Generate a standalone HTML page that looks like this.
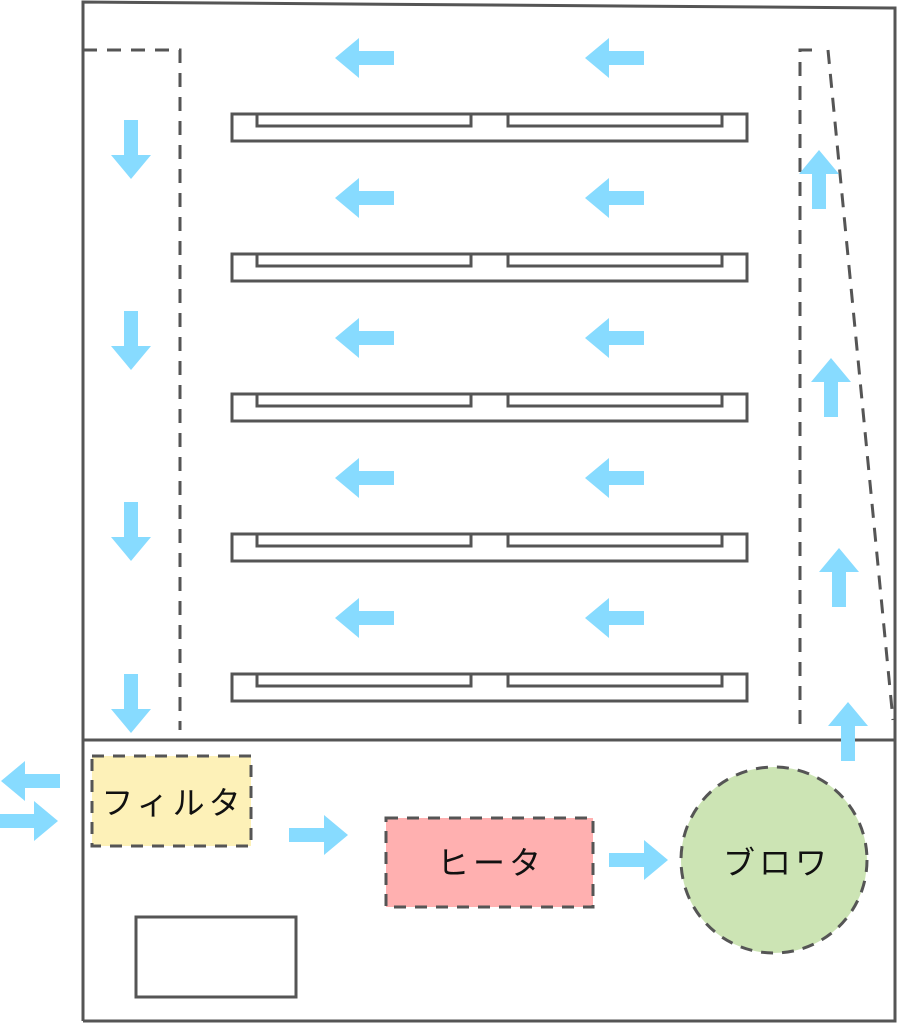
<!DOCTYPE html>
<html><head><meta charset="utf-8"><style>
html,body{margin:0;padding:0;background:#fff;}
svg{display:block;}
text{font-family:"Liberation Sans","Noto Sans CJK JP",sans-serif;font-size:32px;fill:#111;letter-spacing:4px;}
</style></head><body>
<svg width="898" height="1024" viewBox="0 0 898 1024" xmlns="http://www.w3.org/2000/svg">
<defs>
<path id="ar" d="M0,0 L-24,-20 L-24,-7 L-59,-7 L-59,7 L-24,7 L-24,20 Z" fill="#87dbff"/>
<g id="sh" fill="none" stroke="#555" stroke-width="3">
<rect x="232" y="114" width="515" height="27"/>
<polyline points="257,114 257,126 471,126 471,114"/>
<polyline points="508,114 508,126 722,126 722,114"/>
</g>
</defs>
<g stroke="#555" stroke-width="3" fill="none">
<polyline points="83,1021 83,2 895,8 895,1021 83,1021"/>
<line x1="83" y1="740" x2="895" y2="740"/>
</g>
<g stroke="#555" stroke-width="3" fill="none" stroke-dasharray="14,10">
<polyline points="83,50 180,50 180,730"/>
<polyline points="812,50 800,50 800,726"/>
<line x1="828" y1="50" x2="893" y2="720"/>
</g>
<use href="#sh"/>
<use href="#sh" y="140"/>
<use href="#sh" y="280"/>
<use href="#sh" y="420"/>
<use href="#sh" y="560"/>
<g>
<use href="#ar" transform="translate(335,58) rotate(180)"/>
<use href="#ar" transform="translate(585,58) rotate(180)"/>
<use href="#ar" transform="translate(335,198) rotate(180)"/>
<use href="#ar" transform="translate(585,198) rotate(180)"/>
<use href="#ar" transform="translate(335,338) rotate(180)"/>
<use href="#ar" transform="translate(585,338) rotate(180)"/>
<use href="#ar" transform="translate(335,478) rotate(180)"/>
<use href="#ar" transform="translate(585,478) rotate(180)"/>
<use href="#ar" transform="translate(335,618) rotate(180)"/>
<use href="#ar" transform="translate(585,618) rotate(180)"/>
<use href="#ar" transform="translate(131,179) rotate(90)"/>
<use href="#ar" transform="translate(131,370) rotate(90)"/>
<use href="#ar" transform="translate(131,561) rotate(90)"/>
<use href="#ar" transform="translate(131,733) rotate(90)"/>
<use href="#ar" transform="translate(819,150) rotate(-90)"/>
<use href="#ar" transform="translate(831,358) rotate(-90)"/>
<use href="#ar" transform="translate(839,548) rotate(-90)"/>
<use href="#ar" transform="translate(848,702) rotate(-90)"/>
<use href="#ar" transform="translate(1,781) rotate(180)"/>
<use href="#ar" transform="translate(58,821)"/>
<use href="#ar" transform="translate(348,835)"/>
<use href="#ar" transform="translate(668,860)"/>
</g>
<g stroke="#555" stroke-width="3" stroke-dasharray="12,9">
<rect x="92" y="756" width="159" height="90" fill="#fdf1b8"/>
<rect x="386" y="818" width="207" height="89" fill="#ffb0b0"/>
<circle cx="774" cy="860" r="93" fill="#cce4b4"/>
</g>
<rect x="136" y="917" width="160" height="80" fill="none" stroke="#555" stroke-width="3"/>
<text x="173" y="814" text-anchor="middle">フィルタ</text>
<text x="491" y="874" text-anchor="middle">ヒータ</text>
<text x="777" y="874" text-anchor="middle">ブロワ</text>
</svg>
</body></html>
